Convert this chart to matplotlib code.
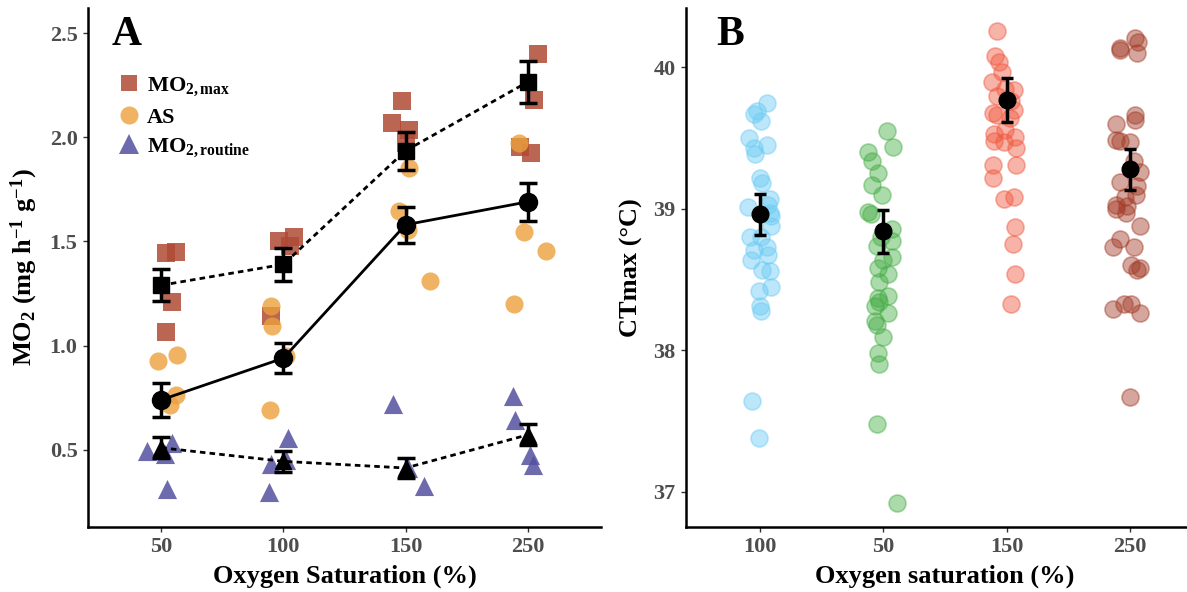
import matplotlib
matplotlib.use("Agg")
import matplotlib.pyplot as plt
from matplotlib.lines import Line2D
import numpy as np

plt.rcParams['font.family'] = ['Liberation Serif', 'DejaVu Serif']
plt.rcParams['font.weight'] = 'bold'
plt.rcParams['mathtext.fontset'] = 'custom'
plt.rcParams['mathtext.rm'] = 'Liberation Serif:bold'
plt.rcParams['mathtext.it'] = 'Liberation Serif:bold'
plt.rcParams['mathtext.bf'] = 'Liberation Serif:bold'

# ---- panel A data (MO2 by oxygen saturation) ----
a_labels = ['50', '100', '150', '250']

mo2max = [[1.445, 1.45, 1.21, 1.065], [1.50, 1.52, 1.476, 1.14],
          [2.175, 2.067, 2.035, 1.97], [2.40, 2.18, 1.955, 1.923]]
mo2max_jit = [[0.04, 0.12, 0.09, 0.04], [-0.04, 0.09, 0.05, -0.10],
              [-0.03, -0.11, 0.03, 0.0], [0.086, 0.055, -0.06, 0.025]]

aerobic = [[0.924, 0.956, 0.765, 0.717], [1.188, 1.095, 0.69, 0.95],
           [1.648, 1.85, 1.556, 1.31], [1.97, 1.543, 1.456, 1.20]]
aerobic_jit = [[-0.03, 0.13, 0.12, 0.07], [-0.10, -0.09, -0.11, 0.02],
               [-0.05, 0.03, 0.02, 0.20], [-0.07, -0.03, 0.15, -0.11]]

routine = [[0.493, 0.535, 0.31, 0.48], [0.434, 0.558, 0.30, 0.45],
           [0.722, 0.325, 0.415], [0.757, 0.645, 0.474, 0.426]]
routine_jit = [[-0.115, 0.09, 0.05, 0.03], [-0.10, 0.04, -0.12, 0.02],
               [-0.10, 0.15, 0.02], [-0.12, -0.10, 0.02, 0.04]]

mo2max_mean = [1.29, 1.39, 1.935, 2.265]
mo2max_se = [0.078, 0.08, 0.09, 0.10]
aerobic_mean = [0.74, 0.94, 1.58, 1.69]
aerobic_se = [0.08, 0.072, 0.087, 0.09]
routine_mean = [0.51, 0.445, 0.413, 0.572]
routine_se = [0.05, 0.05, 0.05, 0.05]

# ---- panel B data (CTmax) ----
b_labels = ['100', '50', '150', '250']

ct_100 = [39.75, 39.67, 39.69, 39.62, 39.50, 39.43, 39.39, 39.45, 39.22, 39.18,
          39.07, 39.01, 38.95, 38.88, 38.80, 38.80, 38.71, 38.73, 38.64, 38.67,
          38.57, 38.56, 38.42, 38.45, 38.31, 38.28, 37.64, 37.38, 38.97, 39.03]
jit_100 = [0.06, -0.05, -0.02, 0.01, -0.09, -0.05, -0.04, 0.06, 0.0, 0.02,
           0.08, -0.10, 0.09, 0.09, -0.08, 0.01, -0.05, 0.06, -0.07, 0.07,
           0.02, 0.08, -0.01, 0.09, 0.0, 0.01, -0.06, -0.01, 0.08, 0.07]

ct_50 = [39.55, 39.44, 39.40, 39.34, 39.25, 39.17, 39.10, 38.98, 38.96, 38.86,
         38.77, 38.74, 38.66, 38.64, 38.58, 38.54, 38.48, 38.38, 38.37, 38.31,
         38.34, 38.26, 38.21, 38.18, 38.09, 37.98, 37.90, 37.48, 36.92, 38.80]
jit_50 = [0.03, 0.08, -0.12, -0.09, -0.04, -0.09, -0.01, -0.12, -0.10, 0.07,
          0.07, -0.05, 0.07, 0.0, -0.04, 0.04, -0.03, 0.04, -0.04, -0.07,
          -0.03, 0.04, -0.07, -0.05, 0.0, -0.04, -0.03, -0.05, 0.11, -0.02]

ct_150 = [40.26, 40.08, 40.04, 39.97, 39.90, 39.84, 39.80, 39.76, 39.68, 39.66,
          39.64, 39.53, 39.56, 39.51, 39.48, 39.47, 39.43, 39.31, 39.31, 39.22,
          39.07, 39.08, 38.87, 38.75, 38.54, 38.33, 39.85, 39.70]
jit_150 = [-0.08, -0.09, -0.06, -0.04, -0.12, 0.06, -0.08, 0.04, -0.11, -0.08,
           0.03, -0.10, -0.01, 0.07, -0.10, -0.02, 0.08, -0.11, 0.08, -0.11,
           -0.02, 0.06, 0.07, 0.05, 0.07, 0.04, -0.01, 0.06]

ct_250 = [40.21, 40.18, 40.14, 40.12, 40.10, 39.66, 39.63, 39.60, 39.49, 39.48,
          39.47, 39.34, 39.26, 39.19, 39.16, 39.10, 39.08, 39.03, 39.02, 39.00,
          38.97, 38.88, 38.79, 38.73, 38.73, 38.60, 38.57, 38.58, 38.33, 38.33,
          38.29, 38.26, 37.67]
jit_250 = [0.04, 0.07, -0.08, -0.08, 0.06, 0.04, 0.04, -0.11, -0.11, -0.08,
           0.0, 0.03, 0.08, -0.08, 0.06, 0.05, -0.04, -0.11, -0.02, -0.11,
           -0.03, 0.08, -0.08, -0.14, 0.03, 0.01, 0.06, 0.08, -0.05, 0.01,
           -0.14, 0.08, 0.0]

ct_mean = [38.96, 38.84, 39.77, 39.28]
ct_se = [0.145, 0.15, 0.155, 0.145]

# colours
c_max = '#B04A35'
c_as = '#EBA03C'
c_rout = '#53519F'
b_colors = ['#6CCBF4', '#45AD45', '#F0583F', '#A23B26']
tick_grey = '#4D4D4D'

fig = plt.figure(figsize=(11.87, 5.92), dpi=100)
axA = fig.add_axes([0.0741, 0.1098, 0.4322, 0.8767])
axB = fig.add_axes([0.5778, 0.1098, 0.4364, 0.8767])


def style_axes(ax):
    for s in ['top', 'right']:
        ax.spines[s].set_visible(False)
    for s in ['left', 'bottom']:
        ax.spines[s].set_linewidth(1.8)
        ax.spines[s].set_color('black')
    ax.tick_params(axis='both', length=3.5, width=1.0, color='#333333',
                   labelsize=16, labelcolor=tick_grey, pad=4)
    for lab in ax.get_xticklabels() + ax.get_yticklabels():
        lab.set_fontweight('bold')


# ---- panel A ----
xs = np.arange(1, len(a_labels) + 1)
for i in range(len(a_labels)):
    axA.scatter(xs[i] + np.array(mo2max_jit[i]), mo2max[i], marker='s', s=150,
                color=c_max, alpha=0.85, linewidths=0, zorder=2)
    axA.scatter(xs[i] + np.array(aerobic_jit[i]), aerobic[i], marker='o', s=170,
                color=c_as, alpha=0.8, linewidths=0, zorder=2)
    axA.scatter(xs[i] + np.array(routine_jit[i]), routine[i], marker='^', s=190,
                color=c_rout, alpha=0.85, linewidths=0, zorder=2)

axA.plot(xs, mo2max_mean, color='black', lw=2, ls=(0, (2, 1.5)), zorder=3)
axA.plot(xs, aerobic_mean, color='black', lw=2, ls='-', zorder=3)
axA.plot(xs, routine_mean, color='black', lw=2, ls=(0, (2, 1.5)), zorder=3)

for mean, se, mk, ms in [(mo2max_mean, mo2max_se, 's', 12),
                         (aerobic_mean, aerobic_se, 'o', 13),
                         (routine_mean, routine_se, '^', 12)]:
    axA.errorbar(xs, mean, yerr=se, fmt=mk, color='black', ms=ms,
                 elinewidth=2.5, capsize=6.5, capthick=2.5, zorder=4)

axA.set_xlim(0.4, 4.6)
axA.set_ylim(0.13, 2.62)
axA.set_xticks(xs)
axA.set_xticklabels(a_labels)
axA.set_yticks([0.5, 1.0, 1.5, 2.0, 2.5])
axA.set_yticklabels(['0.5', '1.0', '1.5', '2.0', '2.5'])
style_axes(axA)
axA.set_xlabel('Oxygen Saturation (%)', fontsize=19, fontweight='bold', labelpad=5)
axA.set_ylabel(r'MO$_2$ (mg h$^{\mathregular{-1}}$ g$^{\mathregular{-1}}$)',
               fontsize=19, fontweight='bold')
axA.yaxis.set_label_coords(-0.094, 0.5)
axA.text(0.076, 0.985, 'A', transform=axA.transAxes, ha='center', va='top',
         fontsize=30, fontweight='bold')

handles = [
    Line2D([], [], marker='s', ls='none', color=c_max, alpha=0.85, ms=12, mew=0),
    Line2D([], [], marker='o', ls='none', color=c_as, alpha=0.8, ms=13, mew=0),
    Line2D([], [], marker='^', ls='none', color=c_rout, alpha=0.85, ms=14, mew=0),
]
axA.legend(handles, [r'MO$_{2,max}$', 'AS', r'MO$_{2,routine}$'],
           loc='upper left', bbox_to_anchor=(0.015, 0.90), frameon=False,
           prop={'size': 16, 'weight': 'bold'}, handletextpad=0.0,
           labelspacing=0.4, handlelength=1.6, borderaxespad=0.3)

# ---- panel B ----
groups = [(ct_100, jit_100), (ct_50, jit_50), (ct_150, jit_150), (ct_250, jit_250)]
xb = np.arange(1, len(b_labels) + 1)
for i, (vals, jit) in enumerate(groups):
    axB.scatter(xb[i] + np.array(jit), vals, s=150, color=b_colors[i],
                alpha=0.45, linewidths=1.2, edgecolors=b_colors[i], zorder=2)

axB.errorbar(xb, ct_mean, yerr=ct_se, fmt='o', color='black', ms=12,
             elinewidth=2.5, capsize=4.5, capthick=2.5, zorder=4)

axB.set_xlim(0.4, 4.6)
axB.set_ylim(36.75, 40.42)
axB.set_xticks(xb)
axB.set_xticklabels(b_labels)
axB.set_yticks([37, 38, 39, 40])
style_axes(axB)
axB.set_xlabel('Oxygen saturation (%)', fontsize=19, fontweight='bold', labelpad=5)
axB.set_ylabel('CTmax (°C)', fontsize=19, fontweight='bold')
axB.yaxis.set_label_coords(-0.083, 0.5)
axB.text(0.085, 0.985, 'B', transform=axB.transAxes, ha='center', va='top',
         fontsize=30, fontweight='bold')

fig.savefig('out.png', dpi=100)
